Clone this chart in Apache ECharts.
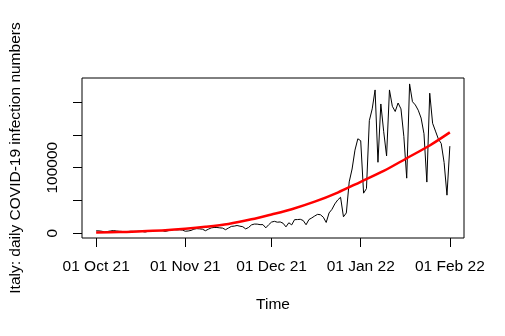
<!DOCTYPE html>
<html>
<head>
<meta charset="utf-8">
<script src="https://cdn.jsdelivr.net/npm/echarts@6/dist/echarts.min.js"></script>
<style>
  html, body { margin: 0; padding: 0; background: #fff; }
  #chart { width: 505px; height: 336px; }
</style>
</head>
<body>
<div id="chart"></div>
<script>
// days counted from 01 Oct 21
const monthTickDays = [0, 31, 61, 92, 123];
const monthTickLabels = ["01 Oct 21", "01 Nov 21", "01 Dec 21", "01 Jan 22", "01 Feb 22"];
const yTickValues = [0, 50000, 100000, 150000, 200000];
const yLabelValues = [0, 100000];

// daily new cases, 01 Oct 21 .. 01 Feb 22
const dailyCases = [
  // Oct
  3405, 3312, 2766, 1612, 2466, 3235, 3794, 3212, 2748, 2494, 1516, 2278, 2772, 2668, 2732, 2983,
  2437, 1597, 2535, 3702, 3882, 3878, 3908, 3725, 2535, 3569, 4598, 5335, 4878, 5035, 4526,
  // Nov
  2818, 3173, 4054, 6000, 6764, 6395, 5882, 3588, 5869, 7891, 8569, 8516, 7985, 7569, 5144,
  7698, 10172, 10638, 11555, 10544, 9709, 6404, 8516, 12448, 13764, 13686, 12877, 12932, 7975, 12764,
  // Dec
  16806, 17959, 16632, 17012, 15021, 9503, 15756, 12527, 20497, 20677, 21042, 19215, 12712, 20677,
  23195, 26109, 28632, 28064, 24259, 16213, 30798, 36293, 44595, 50599, 54762, 24883, 30810, 78313,
  98020, 126888, 144243,
  // Jan
  141262, 61046, 68052, 172000, 190000, 219000, 108300, 197500, 155000, 118000, 219000, 194000,
  186000, 199000, 190000, 148000, 84000, 228179, 201000, 196000, 188000, 176000, 152000, 78000,
  214000, 168000, 156000, 144000, 137000, 108000, 58000,
  // Feb
  133000
];

// red trend curve, read at a few days
const trendDays = [0, 8, 16, 24, 31, 38, 46, 54, 61, 68, 76, 84, 92, 100, 108, 116, 123];
const trendValues = [1000, 1500, 2800, 4300, 6500, 9500, 14000, 21000, 28500, 36500, 48000,
  62000, 78500, 95000, 114500, 134000, 154000];

const chart = echarts.init(document.getElementById("chart"));
const font = "Liberation Sans";

chart.setOption({
  animation: false,
  backgroundColor: "#fff",
  textStyle: { fontFamily: font },
  grid: {
    left: 78, right: 41, top: 78, bottom: 98,
    show: true, borderColor: "#000", borderWidth: 1,
  },
  xAxis: {
    type: "value",
    min: -4.92,
    max: 127.92,
    name: "Time",
    nameLocation: "middle",
    nameGap: 59,
    nameTextStyle: { color: "#000", fontSize: 15.5, fontFamily: font },
    splitLine: { show: false },
    axisLine: { show: false, onZero: false },
    axisTick: {
      show: true, length: 9, customValues: monthTickDays,
      lineStyle: { color: "#000", width: 1 },
    },
    axisLabel: {
      customValues: monthTickDays,
      margin: 21,
      color: "#000",
      fontSize: 15.5,
      fontFamily: font,
      formatter: (v) => monthTickLabels[monthTickDays.indexOf(v)] || "",
    },
  },
  yAxis: {
    type: "value",
    min: -7550,
    max: 237250,
    name: "Italy: daily COVID-19 infection numbers",
    nameLocation: "middle",
    nameGap: 58,
    nameTextStyle: { color: "#000", fontSize: 15.5, fontFamily: font },
    splitLine: { show: false },
    axisLine: { show: false, onZero: false },
    axisTick: {
      show: true, length: 9, customValues: yTickValues,
      lineStyle: { color: "#000", width: 1 },
    },
    axisLabel: {
      customValues: yLabelValues,
      rotate: 90,
      margin: 21,
      color: "#000",
      fontSize: 15.5,
      fontFamily: font,
      formatter: (v) => String(v),
    },
  },
  series: [
    {
      name: "cases",
      type: "line",
      data: dailyCases.map((v, i) => [i, v]),
      showSymbol: false,
      lineStyle: { color: "#000", width: 1 },
      z: 2,
    },
    {
      name: "trend",
      type: "line",
      data: trendDays.map((d, i) => [d, trendValues[i]]),
      showSymbol: false,
      smooth: 0.3,
      lineStyle: { color: "#ff0000", width: 2.5 },
      z: 3,
    },
  ],
});
</script>
</body>
</html>
